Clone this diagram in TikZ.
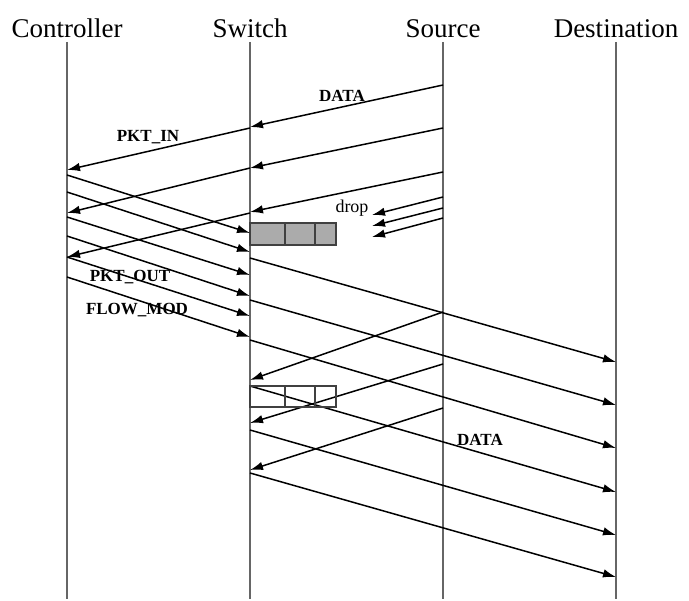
\documentclass[tikz,border=0pt]{standalone}
\usepackage{fontspec}
\setmainfont{Liberation Serif}
\usetikzlibrary{arrows.meta}

\begin{document}
\begin{tikzpicture}[x=1pt, y=-1pt,
    head/.style={anchor=base, inner sep=0pt, font=\fontsize{27}{27}\selectfont},
    lbl/.style={inner sep=0pt, font=\fontsize{17}{17}\selectfont\bfseries},
    lifeline/.style={draw=black!60, line width=1.3pt},
    msg/.style={line width=1.5pt, -{Latex[length=13pt, width=8.5pt]}},
    queue/.style={draw=black!75, line width=1.2pt}]
  \useasboundingbox (0,0) rectangle (689,601);

  % Headers and lifelines
  \node[head] (ctl) at (67,38) {Controller};
  \node[head] (sw) at (250,38) {Switch};
  \node[head] (src) at (443,38) {Source};
  \node[head] (dst) at (616,38) {Destination};
  \draw[lifeline] (ctl |- 0,42) -- (ctl |- 0,599);
  \draw[lifeline] (sw |- 0,42) -- (sw |- 0,599);
  \draw[lifeline] (src |- 0,42) -- (src |- 0,599);
  \draw[lifeline] (dst |- 0,42) -- (dst |- 0,599);

  % First packets: Source to Switch, Switch to Controller
  \draw[msg] (src |- 0,85) -- (sw |- 0,127);
  \node[lbl] (lbldata) at (342,96) {DATA};
  \draw[msg] (sw |- 0,128) -- (ctl |- 0,170);
  \node[lbl] (lblpktin) at (148,137) {PKT\_IN};
  \draw[msg] (src |- 0,128) -- (sw |- 0,168);
  \draw[msg] (sw |- 0,168) -- (ctl |- 0,213);
  \draw[msg] (src |- 0,172) -- (sw |- 0,212);
  \draw[msg] (sw |- 0,213) -- (ctl |- 0,257);

  % Dropped packets
  \coordinate (drop1) at (372,215);
  \coordinate (drop2) at (372,226);
  \coordinate (drop3) at (372,237);
  \draw[msg] (src |- 0,197) -- (drop1);
  \draw[msg] (src |- 0,208) -- (drop2);
  \draw[msg] (src |- 0,218) -- (drop3);
  \node[inner sep=0pt, font=\fontsize{18}{18}\selectfont] (lbldrop) at (352,208) {drop};

  % Full buffer in the switch
  \draw[queue, fill=black!33] (sw |- 0,223) rectangle (336,245);
  \draw[queue] (285,223) -- (285,245);
  \draw[queue] (315,223) -- (315,245);

  % Controller replies: PKT_OUT and FLOW_MOD
  \draw[msg] (ctl |- 0,175) -- (sw |- 0,233);
  \draw[msg] (ctl |- 0,192) -- (sw |- 0,252);
  \draw[msg] (ctl |- 0,217) -- (sw |- 0,275);
  \draw[msg] (ctl |- 0,236) -- (sw |- 0,296);
  \draw[msg] (ctl |- 0,257) -- (sw |- 0,316);
  \draw[msg] (ctl |- 0,277) -- (sw |- 0,337);
  \node[lbl] (lblpktout) at (130,277) {PKT\_OUT};
  \node[lbl] (lblflowmod) at (137,310) {FLOW\_MOD};

  % Forwarding from Switch to Destination
  \draw[msg] (sw |- 0,258) -- (dst |- 0,362);
  \draw[msg] (sw |- 0,300) -- (dst |- 0,405);
  \draw[msg] (sw |- 0,340) -- (dst |- 0,448);
  \draw[msg] (sw |- 0,386) -- (dst |- 0,492);
  \draw[msg] (sw |- 0,430) -- (dst |- 0,535);
  \draw[msg] (sw |- 0,473) -- (dst |- 0,577);
  \node[lbl] (lbldata2) at (480,440) {DATA};

  % Later packets from Source
  \draw[msg] (src |- 0,312) -- (sw |- 0,380);
  \draw[msg] (src |- 0,364) -- (sw |- 0,423);
  \draw[msg] (src |- 0,408) -- (sw |- 0,470);

  % Empty buffer in the switch
  \draw[queue] (sw |- 0,386) rectangle (336,407);
  \draw[queue] (285,386) -- (285,407);
  \draw[queue] (315,386) -- (315,407);
\end{tikzpicture}
\end{document}
